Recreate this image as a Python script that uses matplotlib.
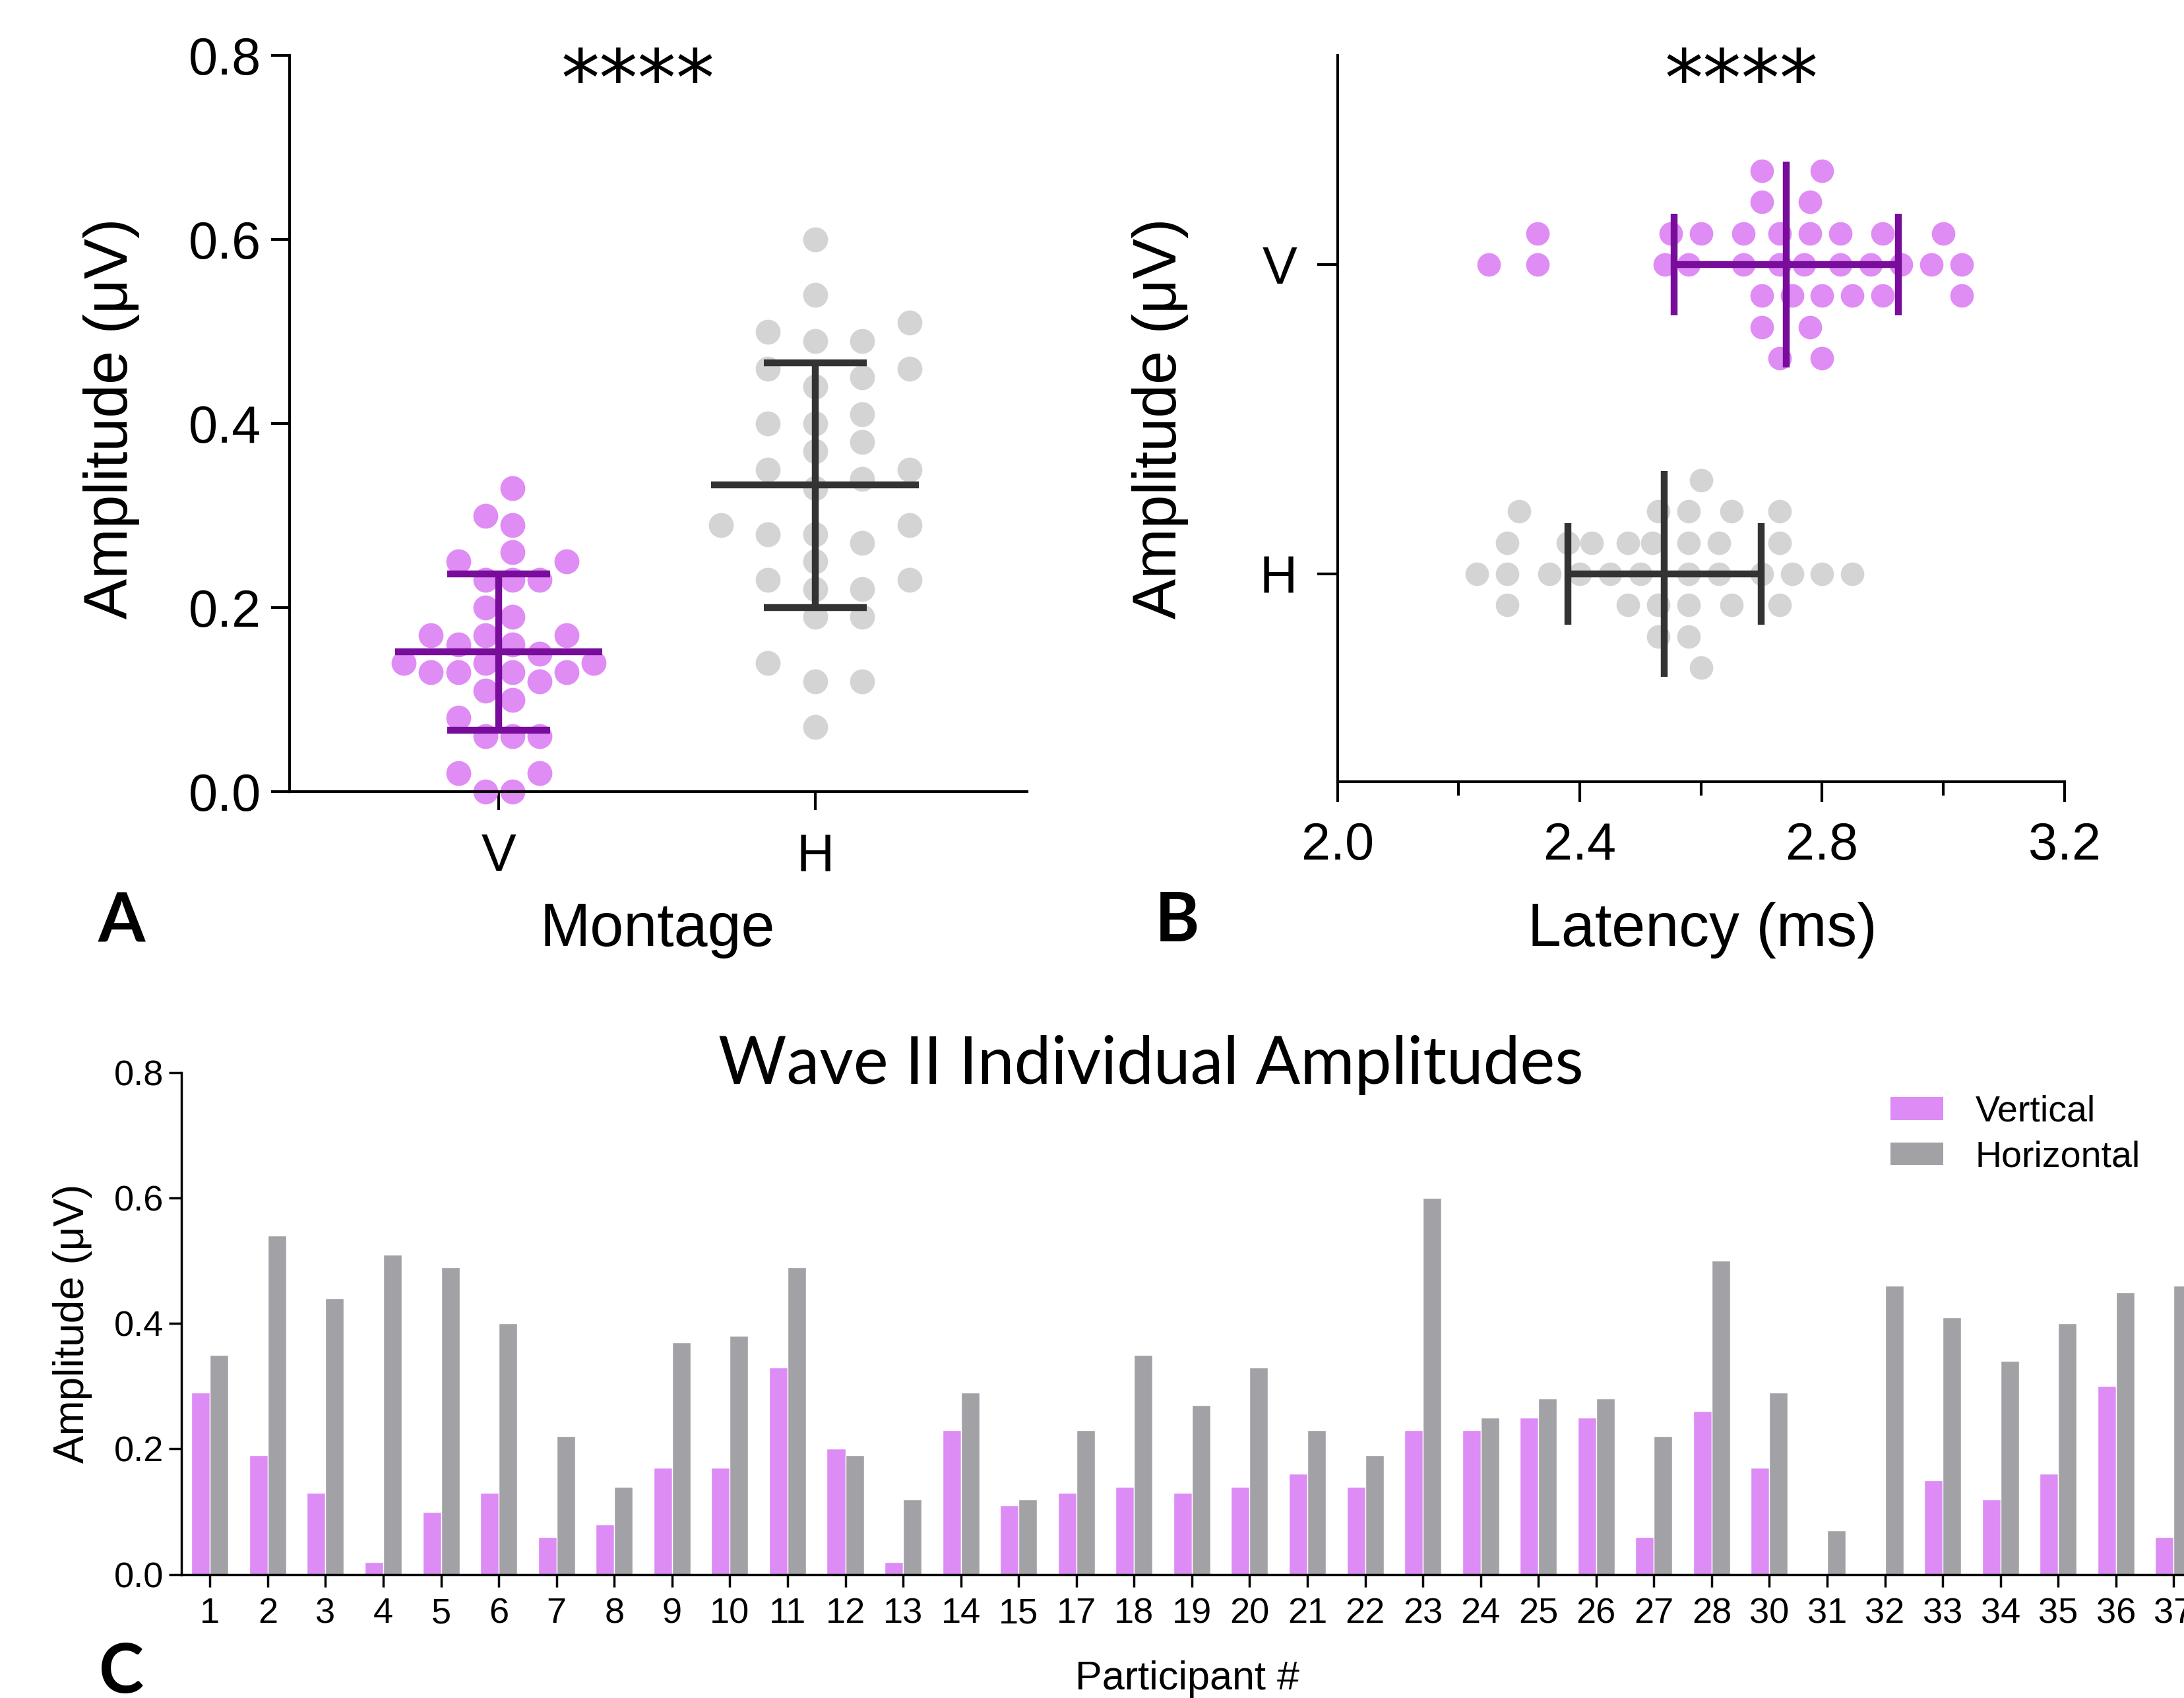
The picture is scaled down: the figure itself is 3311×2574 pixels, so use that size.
import numpy as np
import matplotlib
matplotlib.use("Agg")
import matplotlib.pyplot as plt
from matplotlib.patches import Patch

# Participant IDs (16 and 29 are missing in the study)
participants = list(range(1, 16)) + list(range(17, 29)) + list(range(30, 38))

# Wave II amplitudes (uV) per participant
vertical_amp = [0.29, 0.19, 0.13, 0.02, 0.10, 0.13, 0.06, 0.08, 0.17, 0.17, 0.33, 0.20, 0.02, 0.23, 0.11,
                0.13, 0.14, 0.13, 0.14, 0.16, 0.14, 0.23, 0.23, 0.25, 0.25, 0.06, 0.26,
                0.17, 0.00, 0.00, 0.15, 0.12, 0.16, 0.30, 0.06]
horizontal_amp = [0.35, 0.54, 0.44, 0.51, 0.49, 0.40, 0.22, 0.14, 0.37, 0.38, 0.49, 0.19, 0.12, 0.29, 0.12,
                  0.23, 0.35, 0.27, 0.33, 0.23, 0.19, 0.60, 0.25, 0.28, 0.28, 0.22, 0.50,
                  0.29, 0.07, 0.46, 0.41, 0.34, 0.40, 0.45, 0.46]

# Wave II latencies (ms)
vertical_lat = [2.70, 2.80, 2.70, 2.78, 2.33, 2.58, 2.67, 2.73, 2.77, 2.83, 2.90, 3.03,
                2.25, 2.54, 2.60, 2.70, 2.78, 2.83, 2.90, 3.00,
                2.33, 2.55, 2.67, 2.73, 2.78, 2.88, 2.93, 2.98, 3.03,
                2.73, 2.80, 2.85, 2.70, 2.75, 2.80]
horizontal_lat = [2.23, 2.30, 2.35, 2.40, 2.45, 2.50, 2.58, 2.65, 2.73, 2.80, 2.85,
                  2.28, 2.53, 2.58, 2.63, 2.70, 2.75,
                  2.28, 2.42, 2.48, 2.52, 2.58, 2.65,
                  2.28, 2.38, 2.48, 2.53, 2.58, 2.73,
                  2.53, 2.58, 2.63, 2.73, 2.60, 2.60]

montages = ["V", "H"]
series_names = ["Vertical", "Horizontal"]

PINK = "#DD8BF5"
PINK_DOT = "#DF8CF4"
GREY_DOT = "#D4D4D4"
GREY_BAR = "#A2A1A6"
PURPLE = "#780C9B"
DARK = "#333333"

plt.rcParams["font.family"] = ["Liberation Sans", "DejaVu Sans"]


def swarm(values, thresh, step, half=False):
    """Greedy beeswarm: each value gets the closest free slot."""
    values = np.asarray(values, dtype=float)
    if half:
        cands = [s for k in range(12) for s in (k + 0.5, -(k + 0.5))]
    else:
        cands = [0] + [s for k in range(1, 12) for s in (k, -k)]
    placed = {}
    offsets = np.zeros(len(values))
    for i in np.argsort(values, kind="stable"):
        for s in cands:
            if all(abs(values[i] - v) >= thresh - 1e-9 for v in placed.get(s, [])):
                placed.setdefault(s, []).append(values[i])
                offsets[i] = s * step
                break
    return offsets


def style_axis(ax, lw):
    ax.spines["top"].set_visible(False)
    ax.spines["right"].set_visible(False)
    ax.spines["left"].set_linewidth(lw)
    ax.spines["bottom"].set_linewidth(lw)


fig = plt.figure(figsize=(33.12, 25.74), dpi=100)
W, H = 3312.0, 2574.0

# ---------------- Panel A ----------------
axA = fig.add_axes([0.1326, 0.5338, 0.3375, 0.4334])
groupsA = [(vertical_amp, PINK_DOT, PURPLE, 0.0857, True),
           (horizontal_amp, GREY_DOT, DARK, 0.149, False)]
for i, (vals, dc, ec, step, half) in enumerate(groupsA):
    off = swarm(vals, 0.027, step, half)
    axA.scatter(i + off, vals, s=740, color=dc, linewidths=0, zorder=2, clip_on=False)
    m, sd = np.mean(vals), np.std(vals, ddof=1)
    kw = dict(color=ec, lw=7.5, zorder=3, capstyle="butt")
    axA.hlines(m, i - 0.328, i + 0.328, **kw)
    axA.hlines([m - sd, m + sd], i - 0.163, i + 0.163, **kw)
    axA.vlines(i, m - sd, m + sd, **kw)

axA.set_xlim(-0.661, 1.670)
axA.set_ylim(0, 0.8)
axA.set_xticks([0, 1])
axA.set_xticklabels(montages)
axA.set_yticks([0, 0.2, 0.4, 0.6, 0.8])
axA.set_yticklabels(["0.0", "0.2", "0.4", "0.6", "0.8"])
style_axis(axA, 3)
axA.tick_params(axis="both", length=20, width=3, labelsize=57)
axA.tick_params(axis="y", pad=11)
axA.tick_params(axis="x", pad=25)

# ---------------- Panel B ----------------
axB = fig.add_axes([0.6122, 0.5396, 0.3328, 0.4276])
groupsB = [(vertical_lat, 1, PINK_DOT, PURPLE), (horizontal_lat, 0, GREY_DOT, DARK)]
for vals, yc, dc, ec in groupsB:
    off = swarm(vals, 0.038, 0.101)
    axB.scatter(vals, yc + off, s=660, color=dc, linewidths=0, zorder=2)
    m, sd = np.mean(vals), np.std(vals, ddof=1)
    kw = dict(color=ec, lw=7.5, zorder=3, capstyle="butt")
    axB.vlines(m, yc - 0.333, yc + 0.333, **kw)
    axB.vlines([m - sd, m + sd], yc - 0.164, yc + 0.164, **kw)
    axB.hlines(yc, m - sd, m + sd, **kw)

axB.set_xlim(2.0, 3.2)
axB.set_ylim(-0.672, 1.675)
axB.set_xticks([2.0, 2.4, 2.8, 3.2])
axB.set_xticklabels(["2.0", "2.4", "2.8", "3.2"])
axB.set_xticks([2.2, 2.6, 3.0], minor=True)
axB.set_yticks([1, 0])
axB.set_yticklabels(montages)
style_axis(axB, 3)
axB.tick_params(axis="both", which="major", length=22, width=3, labelsize=57)
axB.tick_params(axis="x", which="minor", length=15, width=3)
axB.tick_params(axis="x", pad=21)
axB.tick_params(axis="y", pad=22)

# shared texts for A and B
fig.text(967 / W, 1 - 128 / H, "****", fontsize=84, family="DejaVu Sans", ha="center", va="center")
fig.text(2640 / W, 1 - 128 / H, "****", fontsize=84, family="DejaVu Sans", ha="center", va="center")
fig.text(997 / W, 1 - 1410 / H, "Montage", fontsize=66, ha="center", va="center")
fig.text(2581 / W, 1 - 1410 / H, "Latency (ms)", fontsize=66, ha="center", va="center")
fig.text(169 / W, 1 - 634 / H, "Amplitude (μV)", fontsize=66, rotation=90, ha="center", va="center")
fig.text(1759 / W, 1 - 634 / H, "Amplitude (μV)", fontsize=66, rotation=90, ha="center", va="center")
fig.text(184 / W, 1 - 1397 / H, "A", fontsize=74, family="Lato", weight="bold", ha="center", va="center")
fig.text(1785 / W, 1 - 1397 / H, "B", fontsize=74, family="Lato", weight="bold", ha="center", va="center")

# ---------------- Panel C ----------------
axC = fig.add_axes([0.0829, 0.0728, 1.0082 - 0.0829, 0.3683 - 0.0728])
x = np.arange(len(participants))
bw = 0.32
axC.bar(x - bw / 2, vertical_amp, bw, color=PINK, edgecolor="white", linewidth=1, label=series_names[0])
axC.bar(x + bw / 2, horizontal_amp, bw, color=GREY_BAR, edgecolor="white", linewidth=1, label=series_names[1])
axC.set_xlim(-0.5, len(participants) - 0.5)
axC.set_ylim(0, 0.8)
axC.set_xticks(x)
axC.set_xticklabels([str(p) for p in participants])
axC.set_yticks([0, 0.2, 0.4, 0.6, 0.8])
axC.set_yticklabels(["0.0", "0.2", "0.4", "0.6", "0.8"])
style_axis(axC, 2.5)
axC.tick_params(axis="both", length=14, width=2.5, labelsize=39)
axC.tick_params(axis="y", pad=5)
axC.tick_params(axis="x", pad=11)

handles = [Patch(facecolor=PINK, edgecolor="none"), Patch(facecolor=GREY_BAR, edgecolor="none")]
fig.legend(handles, series_names, loc="upper left", bbox_to_anchor=(2866 / W, 1 - 1660 / H),
           frameon=False, fontsize=40, handlelength=1.44, handleheight=0.58,
           handletextpad=0.88, labelspacing=0.3, borderpad=0, borderaxespad=0)

fig.text(1745 / W, 1 - 1614 / H, "Wave II Individual Amplitudes", fontsize=72, family="Lato",
         ha="center", va="center")
fig.text(1800 / W, 1 - 2545 / H, "Participant #", fontsize=44, ha="center", va="center")
fig.text(110 / W, 1 - 2006 / H, "Amplitude (μV)", fontsize=46, rotation=90, ha="center", va="center")
fig.text(184 / W, 1 - 2536 / H, "C", fontsize=74, family="Lato", weight="bold", ha="center", va="center")

fig.savefig("out.png", dpi=100)
